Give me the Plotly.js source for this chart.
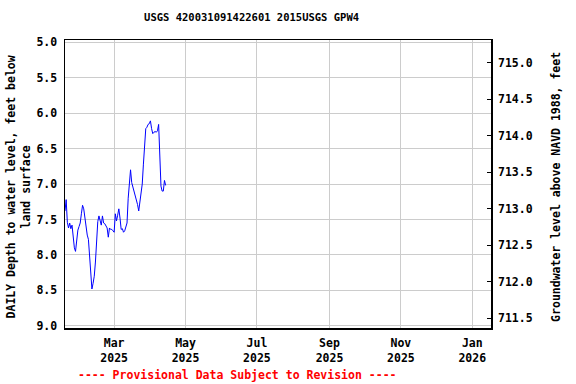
<!DOCTYPE html>
<html>
<head>
<meta charset="utf-8">
<script src="https://cdn.plot.ly/plotly-3.0.1.min.js"></script>
<style>html,body{margin:0;padding:0;background:#fff;}#chart{width:576px;height:384px;}</style>
</head>
<body>
<div id="chart"></div>
<script>
// Daily depth to water level (feet below land surface), starting 2025-01-18
const startDate = '2025-01-18';
const depthValues = [
  7.38, 7.22, 7.54, 7.62, 7.55, 7.63, 7.58, 7.78, 7.90, 7.95,
  7.80, 7.65, 7.60, 7.55, 7.42, 7.30, 7.35, 7.50, 7.60, 7.72,
  7.78, 8.05, 8.35, 8.48, 8.40, 8.30, 8.10, 7.72, 7.53, 7.45,
  7.52, 7.58, 7.45, 7.55, 7.56, 7.60, 7.62, 7.75, 7.62, 7.64,
  7.64, 7.66, 7.68, 7.42, 7.52, 7.44, 7.35, 7.48, 7.64, 7.63,
  7.68, 7.66, 7.60, 7.55, 7.20, 6.92, 6.80, 6.98, 7.04, 7.08,
  7.15, 7.24, 7.29, 7.38, 7.22, 7.12, 7.00, 6.72, 6.36, 6.22,
  6.20, 6.16, 6.15, 6.11, 6.22, 6.29, 6.27, 6.26, 6.27, 6.25,
  6.16, 6.70, 7.03, 7.10, 7.10, 6.95, 7.02
];
const leftTicks = [5.0, 5.5, 6.0, 6.5, 7.0, 7.5, 8.0, 8.5, 9.0];
const rightTicks = [711.5, 712.0, 712.5, 713.0, 713.5, 714.0, 714.5, 715.0];

const dates = [];
{
  const d0 = new Date(startDate + 'T00:00:00Z');
  for (let i = 0; i < depthValues.length; i++) {
    const d = new Date(d0.getTime() + i * 86400000);
    dates.push(d.toISOString().slice(0, 10));
  }
}

const FONT = 'DejaVu Sans Mono, monospace';
const traces = [
  {x: dates, y: depthValues, type: 'scatter', mode: 'lines',
   line: {color: '#0000ff', width: 1}, hoverinfo: 'skip', showlegend: false},
  {x: [], y: [], type: 'scatter', mode: 'lines', yaxis: 'y2', showlegend: false, hoverinfo: 'skip'}
];

const layout = {
  width: 576, height: 384,
  margin: {l: 65, r: 85, t: 40, b: 56},
  paper_bgcolor: '#fff', plot_bgcolor: '#fff',
  font: {family: FONT, size: 11.5, color: '#000', weight: 'bold'},
  showlegend: false,
  title: {text: '<b>USGS 420031091422601 2015USGS GPW4</b>', font: {family: FONT, size: 10.5, color: '#000'},
          xref: 'paper', x: 0.438, xanchor: 'center', yref: 'container', y: 0.956, yanchor: 'middle'},
  xaxis: {
    type: 'date', range: ['2025-01-18', '2026-01-17'],
    tick0: '2025-03-01', dtick: 'M2', tickformat: '%b<br>%Y',
    showgrid: true, gridcolor: '#cccccc', gridwidth: 1,
    showline: true, linecolor: '#000', linewidth: 1.5, mirror: true,
    ticks: '', zeroline: false, ticklabelstandoff: 4,
    tickfont: {family: FONT, size: 11.5, color: '#000', weight: 'bold'}
  },
  yaxis: {
    range: [9.03, 4.97], tickvals: leftTicks, tickformat: '.1f',
    showgrid: true, gridcolor: '#cccccc', gridwidth: 1,
    showline: true, linecolor: '#000', linewidth: 1.5, mirror: true,
    ticks: '', zeroline: false, ticklabelstandoff: 4,
    tickfont: {family: FONT, size: 11.5, color: '#000', weight: 'bold'}
  },
  yaxis2: {
    overlaying: 'y', side: 'right', range: [711.365, 715.315], tickvals: rightTicks, tickformat: '.1f',
    showgrid: false, showline: false, ticks: 'inside', ticklen: 4, tickcolor: '#000', zeroline: false,
    ticklabelstandoff: 6,
    tickfont: {family: FONT, size: 11.5, color: '#000', weight: 'bold'}
  },
  annotations: [
    {text: '<b>DAILY Depth to water level, feet below<br>land surface</b>', xref: 'paper', yref: 'paper',
     x: -0.109, y: 0.49, xanchor: 'center', yanchor: 'middle', textangle: -90, showarrow: false,
     font: {family: FONT, size: 11.5, color: '#000'}},
    {text: '<b>Groundwater level above NAVD 1988, feet</b>', xref: 'paper', yref: 'paper',
     x: 1.1526, y: 0.49, xanchor: 'center', yanchor: 'middle', textangle: -90, showarrow: false,
     font: {family: FONT, size: 11.5, color: '#000'}},
    {text: '<b>---- Provisional Data Subject to Revision ----</b>', xref: 'paper', yref: 'paper',
     x: 0.404, y: -0.163, xanchor: 'center', yanchor: 'middle', showarrow: false,
     font: {family: FONT, size: 11.5, color: '#ff0000'}}
  ]
};

Plotly.newPlot('chart', traces, layout, {staticPlot: true, displayModeBar: false});
</script>
</body>
</html>
